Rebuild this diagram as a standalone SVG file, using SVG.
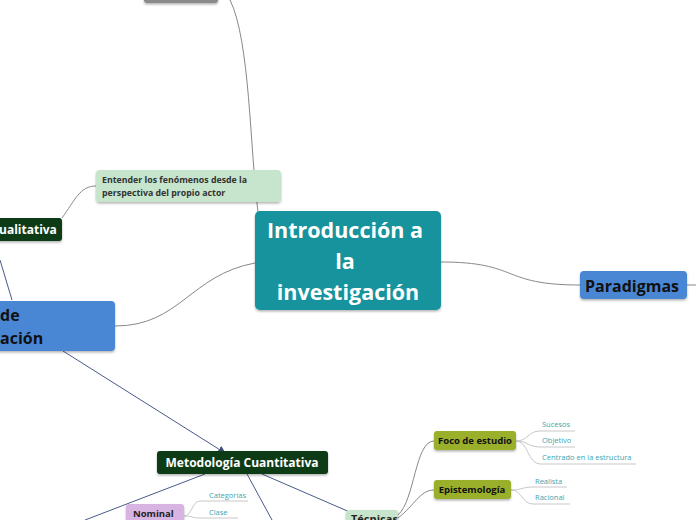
<svg xmlns="http://www.w3.org/2000/svg" width="696" height="520" viewBox="0 0 696 520">
<defs>
<marker id="ar" markerWidth="8" markerHeight="8" refX="7" refY="4" orient="auto" markerUnits="userSpaceOnUse"><path d="M0,0 L8,4 L0,8 z" fill="#3d4b7a"/></marker>
<filter id="sh" x="-10%" y="-10%" width="120%" height="130%"><feDropShadow dx="0" dy="1.5" stdDeviation="1" flood-color="#000" flood-opacity="0.3"/></filter>
</defs>
<style>
text{font-family:"Open Sans","Noto Sans","DejaVu Sans",sans-serif;font-weight:bold}
.c{fill:none;stroke:#888;stroke-width:1}
.a{fill:none;stroke:#4a5a8a;stroke-width:1}
.l{fill:none;stroke:#c8c8c8;stroke-width:1}
.lf{font-size:7.5px;font-weight:normal;fill:#3aa6b0}
</style>
<rect width="696" height="520" fill="#fff"/>
<g id="connectors">
<path class="c" d="M258,212 C250,150 250,40 230,0"/>
<path class="c" d="M441,262 C520,262 500,285 580,285 L696,285"/>
<path class="c" d="M255,263 C190,275 180,326 115,326"/>
<path class="c" d="M62,218 C75,200 80,186 96,186"/>
<path class="a" d="M0,260 L12,300"/>
<path class="a" d="M63,351 L225,453" marker-end="url(#ar)"/>
<path class="a" d="M262,474 L352,513"/>
<path class="a" d="M247,474 L272,520"/>
<path class="a" d="M205,474 L85,520"/>
<path class="c" d="M398,515 C415,500 415,441 434,441"/>
<path class="c" d="M398,518 C415,505 420,490 434,490"/>
<path class="l" d="M516,441 C528,441 528,431 540,431 L575,431"/>
<path class="l" d="M516,441 C528,441 528,447 540,447 L575,447"/>
<path class="l" d="M516,441 C528,441 528,464 540,464 L636,464"/>
<path class="l" d="M511,490 C522,490 522,487 533,487 L567,487"/>
<path class="l" d="M511,490 C522,490 522,504 533,504 L570,504"/>
<path class="l" d="M184,516 C192,516 192,501 200,501 L248,501"/>
<path class="l" d="M184,516 C192,516 192,518 200,518 L238,518"/>
</g>
<g id="top"><rect x="144" y="-10" width="74" height="13" rx="3" fill="#8a8a8a" filter="url(#sh)"/></g>
<g id="central"><rect x="255" y="211" width="186" height="99" rx="5" fill="#16939c" filter="url(#sh)"/>
<text x="345" y="238" font-size="21.5" fill="#fff" text-anchor="middle">Introducción a</text>
<text x="345" y="269" font-size="21.5" fill="#fff" text-anchor="middle">la</text>
<text x="348" y="300" font-size="21.5" fill="#fff" text-anchor="middle">investigación</text></g>
<g id="paradigmas"><rect x="580" y="271" width="107" height="28" rx="4" fill="#4a86d4" filter="url(#sh)"/>
<text x="585" y="292" font-size="16" fill="#111">Paradigmas</text></g>
<g id="tipos"><rect x="-10" y="301" width="125" height="50" rx="4" fill="#4a86d4" filter="url(#sh)"/>
<text x="0" y="321" font-size="16" fill="#111">de</text>
<text x="0" y="344" font-size="16" fill="#111">ación</text></g>
<g id="cualitativa"><rect x="-5" y="218" width="67" height="23" rx="3" fill="#0d3a16" filter="url(#sh)"/>
<text x="-1" y="234" font-size="12" fill="#fff">ualitativa</text></g>
<g id="entender"><rect x="96" y="170" width="185" height="32" rx="4" fill="#c6e5cc" filter="url(#sh)"/>
<text x="102" y="183" font-size="8.8" fill="#333">Entender los fenómenos desde la</text>
<text x="102" y="196" font-size="8.8" fill="#333">perspectiva del propio actor</text></g>
<g id="cuantitativa"><rect x="157" y="451" width="171" height="23" rx="3" fill="#0d3a16" filter="url(#sh)"/>
<text x="242" y="467" font-size="12" fill="#fff" text-anchor="middle">Metodología Cuantitativa</text></g>
<g id="foco"><rect x="434" y="431" width="82" height="19" rx="3" fill="#9aaf2a" filter="url(#sh)"/>
<text x="475" y="444" font-size="9.5" fill="#111" text-anchor="middle">Foco de estudio</text></g>
<g id="episte"><rect x="434" y="480" width="77" height="19" rx="3" fill="#9aaf2a" filter="url(#sh)"/>
<text x="472" y="493" font-size="9.5" fill="#111" text-anchor="middle">Epistemología</text></g>
<g id="tecnicas"><rect x="346" y="510" width="52" height="18" rx="3" fill="#c6e5cc" filter="url(#sh)"/>
<text x="351" y="523" font-size="11" fill="#222">Técnicas</text></g>
<g id="nominal"><rect x="126" y="504" width="58" height="22" rx="3" fill="#d8b4e2" filter="url(#sh)"/>
<text x="133" y="517" font-size="9.5" fill="#222">Nominal</text></g>
<g id="leaves">
<text class="lf" x="542" y="427">Sucesos</text>
<text class="lf" x="542" y="443">Objetivo</text>
<text class="lf" x="542" y="460">Centrado en la estructura</text>
<text class="lf" x="535" y="484">Realista</text>
<text class="lf" x="535" y="500">Racional</text>
<text class="lf" x="209" y="498">Categorías</text>
<text class="lf" x="209" y="515">Clase</text>
</g>
</svg>
